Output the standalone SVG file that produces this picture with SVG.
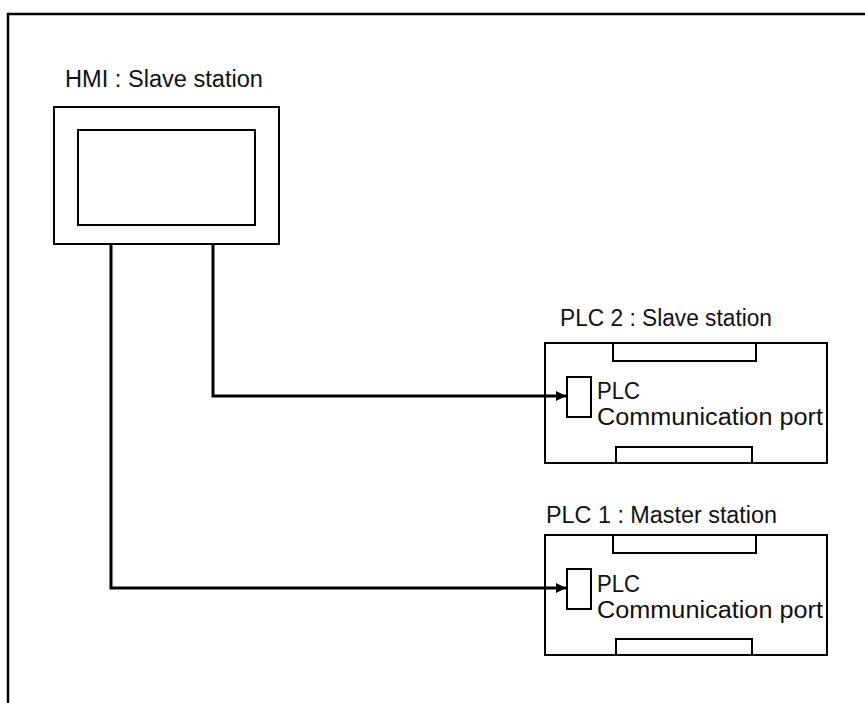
<svg xmlns="http://www.w3.org/2000/svg" width="865" height="703" viewBox="0 0 865 703">
<style>
.box{fill:none;stroke:#000;stroke-width:2}
.wire{fill:none;stroke:#000;stroke-width:3}
.t{font-family:"Liberation Sans","Open Sans",sans-serif;fill:#111}
.title{font-size:23px}
.lbl{font-size:23px}
</style>
<defs>
<marker id="arr" viewBox="0 0 10 10" refX="10" refY="5" markerWidth="3.4" markerHeight="3.4" orient="auto" markerUnits="strokeWidth">
<path d="M0,0 L10,5 L0,10 z" fill="#000"/>
</marker>
</defs>
<rect width="865" height="703" fill="#fff"/>
<g id="frame">
<path d="M8,703 V14 H865" fill="none" stroke="#000" stroke-width="2.5"/>
</g>
<g id="hmi">
<text class="t title" x="65" y="87" textLength="198" lengthAdjust="spacingAndGlyphs">HMI : Slave station</text>
<rect class="box" x="54" y="107" width="225" height="137"/>
<rect class="box" x="78" y="130" width="177" height="95"/>
</g>
<g id="plc2">
<text class="t title" x="560" y="326" textLength="212" lengthAdjust="spacingAndGlyphs">PLC 2 : Slave station</text>
<rect class="box" x="545" y="343" width="282" height="120"/>
<path class="box" d="M613,343 V361 H756 V343"/>
<path class="box" d="M616,463 V447 H752 V463"/>
<rect class="box" x="567" y="377" width="24" height="40"/>
<text class="t lbl" x="597" y="399" textLength="43" lengthAdjust="spacingAndGlyphs">PLC</text>
<text class="t lbl" x="597" y="425" textLength="226" lengthAdjust="spacingAndGlyphs">Communication port</text>
</g>
<g id="plc1">
<text class="t title" x="546" y="523" textLength="231" lengthAdjust="spacingAndGlyphs">PLC 1 : Master station</text>
<rect class="box" x="545" y="535" width="282" height="120"/>
<path class="box" d="M613,535 V553 H756 V535"/>
<path class="box" d="M616,655 V639 H752 V655"/>
<rect class="box" x="567" y="569" width="24" height="40"/>
<text class="t lbl" x="597" y="592" textLength="43" lengthAdjust="spacingAndGlyphs">PLC</text>
<text class="t lbl" x="597" y="618" textLength="226" lengthAdjust="spacingAndGlyphs">Communication port</text>
</g>
<g id="connectors">
<path class="wire" d="M213,244 V396 H566" marker-end="url(#arr)"/>
<path class="wire" d="M111,244 V588 H566" marker-end="url(#arr)"/>
</g>
</svg>
